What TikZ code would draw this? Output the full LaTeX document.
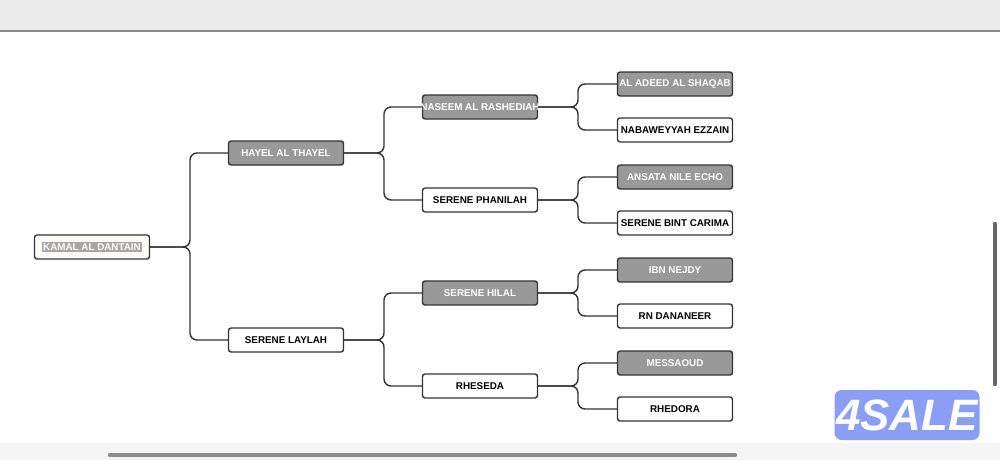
\documentclass[tikz,border=0pt]{standalone}
\usepackage{fontspec}
\setmainfont{Liberation Sans}
\newcommand{\nm}[1]{\makebox[0pt][c]{#1}}
\begin{document}
\begin{tikzpicture}[x=0.02cm,y=-0.02cm,
  box/.style={draw=black!80,line width=0.8pt,rounded corners=1.5pt,minimum width=115*0.02cm,minimum height=24*0.02cm,inner sep=0pt,font=\fontsize{5.6}{7}\selectfont\bfseries},
  dark/.style={box,fill=black!40,text=white},
  light/.style={box,fill=white,text=black},
  link/.style={draw=black!80,line width=0.8pt,rounded corners=4pt}]
\useasboundingbox (0,0) rectangle (1000,460);
\fill[black!8] (0,0) rectangle (1000,31);
\draw[black!45,line width=0.6pt] (0,31) -- (1000,31);
\fill[black!4] (0,443) rectangle (1000,460);
\draw[black!45,line width=2.5pt,line cap=round] (110,455) -- (735,455);
\draw[black!60,line width=2.5pt,line cap=round] (995,224) -- (995,384);
\coordinate (j1) at (190,0);
\coordinate (j2) at (384,0);
\coordinate (j3) at (578,0);
\node[box,fill=orange!4,text=white] (k) at (92,247) {\nm{\setlength{\fboxsep}{0.8pt}\colorbox{black!35}{KAMAL AL DANTAIN}}};
\node[dark] (h) at (286,153) {\nm{HAYEL AL THAYEL}};
\node[light] (sl) at (286,340) {\nm{SERENE LAYLAH}};
\node[dark] (n) at (480,107) {\nm{NASEEM AL RASHEDIAH}};
\node[light] (sp) at (480,200) {\nm{SERENE PHANILAH}};
\node[dark] (sh) at (480,293) {\nm{SERENE HILAL}};
\node[light] (r) at (480,386) {\nm{RHESEDA}};
\node[dark] (a) at (675,84) {\nm{AL ADEED AL SHAQAB}};
\node[light] (nb) at (675,130) {\nm{NABAWEYYAH EZZAIN}};
\node[dark] (an) at (675,177) {\nm{ANSATA NILE ECHO}};
\node[light] (sb) at (675,223) {\nm{SERENE BINT CARIMA}};
\node[dark] (i) at (675,270) {\nm{IBN NEJDY}};
\node[light] (rn) at (675,316) {\nm{RN DANANEER}};
\node[dark] (m) at (675,363) {\nm{MESSAOUD}};
\node[light] (rh) at (675,409) {\nm{RHEDORA}};
\foreach \p/\j/\c in {k/j1/h,k/j1/sl,h/j2/n,h/j2/sp,sl/j2/sh,sl/j2/r,n/j3/a,n/j3/nb,sp/j3/an,sp/j3/sb,sh/j3/i,sh/j3/rn,r/j3/m,r/j3/rh}
  \draw[link] (\p.east) -- (\p.east -| \j) |- (\c.west);
\node[fill={rgb,255:red,138;green,158;blue,245},rounded corners=4pt,minimum width=145*0.02cm,minimum height=50*0.02cm,inner sep=0pt,text=white,font=\fontsize{25}{25}\selectfont\bfseries\itshape] (logo) at (907,415) {4SALE};
\end{tikzpicture}
\end{document}
